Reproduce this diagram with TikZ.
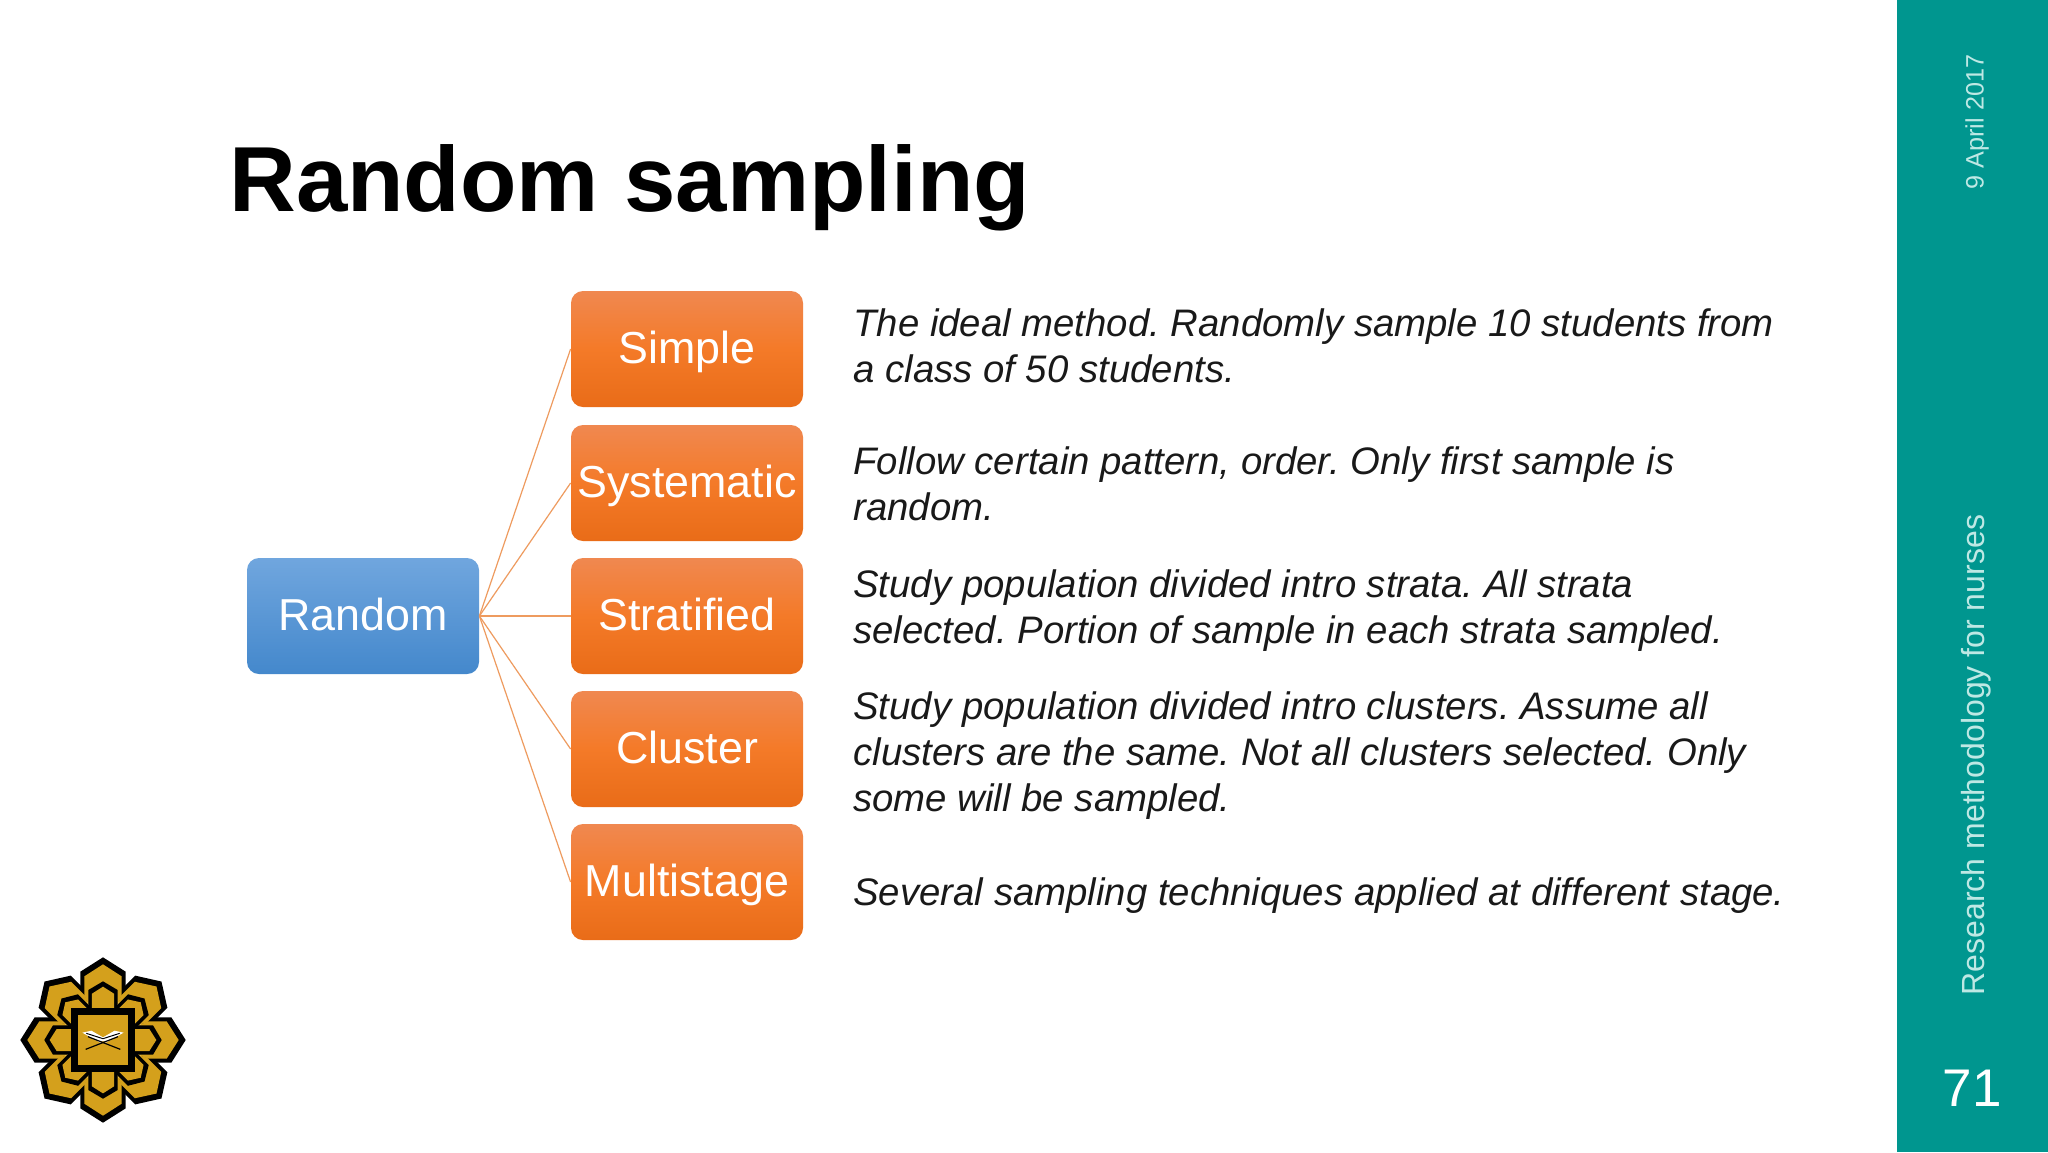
\documentclass[tikz,border=0pt]{standalone}
\usepackage{fontspec}
\setmainfont{Liberation Sans}
\definecolor{teal1}{RGB}{0,150,143}
\definecolor{datec}{RGB}{190,232,228}
\definecolor{logoGold}{RGB}{212,160,28}
\definecolor{linkc}{RGB}{238,155,95}
\definecolor{orange1}{RGB}{240,136,80}
\definecolor{orange2}{RGB}{244,122,40}
\definecolor{orange3}{RGB}{233,108,24}
\definecolor{blue1}{RGB}{112,166,222}
\definecolor{blue2}{RGB}{68,136,204}
\tikzset{
  box/.style={rounded corners=6pt,minimum width=116pt,minimum height=58pt,inner sep=0pt,text=white,text height=14pt,text depth=0pt,font=\fontsize{22.4}{26}\selectfont},
  orangebox/.style={box,top color=orange1,bottom color=orange3,middle color=orange2},
  bluebox/.style={box,top color=blue1,bottom color=blue2},
  desc/.style={anchor=west,align=left,inner sep=0pt,font=\fontsize{19.17}{23}\selectfont\itshape\frenchspacing,text=black!90},
  link/.style={draw=linkc,line width=0.6pt},
  sidetext/.style={rotate=90,text=datec,inner sep=0pt}
}
\newcommand{\petalA}{(0,-248)--(68,-205)--(68,-125)--(0,-100)--(-68,-125)--(-68,-205)--cycle}
\newcommand{\petalB}{(0,-227)--(56,-191)--(56,-133)--(36,-90)--(-36,-90)--(-56,-133)--(-56,-191)--cycle}
\newcommand{\petalC}{(0,-176)--(44,-150)--(44,-95)--(-44,-95)--(-44,-150)--cycle}
\newcommand{\petalD}{(0,-160)--(33,-139)--(33,-95)--(-33,-95)--(-33,-139)--cycle}
\begin{document}
\begin{tikzpicture}[x=0.5pt,y=-0.5pt]
\useasboundingbox (0,0) rectangle (2048,1152);
\fill[white] (0,0) rectangle (2048,1152);
\fill[teal1] (1897,0) rectangle (2048,1152);
\node[anchor=west,inner sep=0pt,font=\fontsize{46.2}{50}\selectfont\bfseries] (title) at (229,188) {Random sampling};
\node[bluebox] (random) at (363,616) {Random};
\node[orangebox] (simple) at (687,349) {Simple};
\node[orangebox] (systematic) at (687,483) {Systematic};
\node[orangebox] (stratified) at (687,616) {Stratified};
\node[orangebox] (cluster) at (687,749) {Cluster};
\node[orangebox] (multistage) at (687,882) {Multistage};
\foreach \t in {simple,systematic,stratified,cluster,multistage}
  \draw[link] (random.east) -- (\t.west);
\node[desc] (d1) at (853,346) {The ideal method. Randomly sample 10 students from\\a class of 50 students.};
\node[desc] (d2) at (853,484) {Follow certain pattern, order. Only first sample is\\random.};
\node[desc] (d3) at (853,611) {Study population divided intro strata. All strata\\selected. Portion of sample in each strata sampled.};
\node[desc] (d4) at (853,756) {Study population divided intro clusters. Assume all\\clusters are the same. Not all clusters selected. Only\\some will be sampled.};
\node[desc] (d5) at (853,896) {Several sampling techniques applied at different stage.};
\node[sidetext,font=\fontsize{12.6}{15}\selectfont] (date) at (1977,122) {9 April 2017};
\node[sidetext,font=\fontsize{16}{19}\selectfont] (course) at (1976,755) {Research methodology for nurses};
\node[text=white,inner sep=0pt,font=\fontsize{26.5}{30}\selectfont] (pagenum) at (1972,1088) {71};
% logo
\begin{scope}[shift={(103,1040)},x=0.1667pt,y=-0.1667pt]
\foreach \a in {0,45,...,315} \fill[black,rotate=\a] \petalA;
\foreach \a in {0,45,...,315} \fill[logoGold,rotate=\a] \petalB;
\foreach \a in {0,45,...,315} \fill[black,rotate=\a] \petalC;
\foreach \a in {0,45,...,315} \fill[logoGold,rotate=\a] \petalD;
\fill[black] (-97,-97) rectangle (97,97);
\fill[logoGold] (-75,-75) rectangle (75,75);
\fill[white] (-62,-22) -- (-35,-28) -- (0,-8) -- (35,-28) -- (62,-22) -- (8,8) -- (0,2) -- (-8,8) -- cycle;
\draw[black,line width=0.5pt] (-50,-20) -- (0,-4) -- (50,-20);
\draw[black,line width=0.6pt] (-52,28) -- (45,-10);
\draw[black,line width=0.6pt] (52,28) -- (-45,-10);
\end{scope}
\end{tikzpicture}
\end{document}
